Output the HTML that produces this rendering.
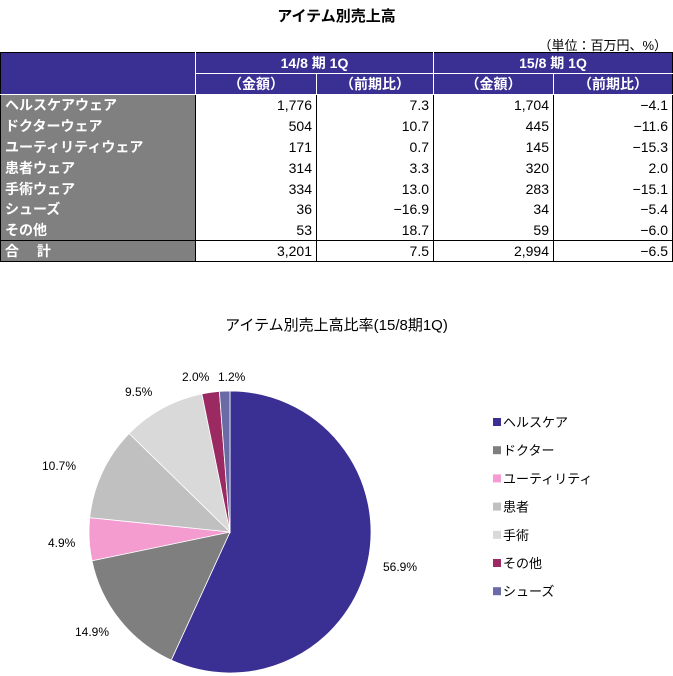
<!DOCTYPE html>
<html><head><meta charset="utf-8">
<style>
body{margin:0;background:#fff;width:673px;height:676px;position:relative;overflow:hidden;font-family:"Liberation Sans","Noto Sans CJK JP",sans-serif;color:#000}
.t{position:absolute;white-space:nowrap}
table{position:absolute;left:0;top:52px;border-collapse:collapse;font-size:14px}
td{border:1px solid #000;padding:0 4px;height:20px;text-align:right;box-sizing:border-box}
.h td{background:#3a3094;color:#fff;text-align:center;font-weight:bold;border-color:#fff;height:20px}
td.l{background:#808080;color:#fff;text-align:left;font-weight:bold;border-top:none;border-bottom:none;border-left:1px solid #000}
tbody.d td{border-top:none;border-bottom:none;height:20.9px}
tr.tot td{border-top:1px solid #000;border-bottom:1px solid #000;height:20px}
</style></head><body>
<div class="t" style="left:0;width:673px;text-align:center;top:5px;font-size:15px;font-weight:bold">アイテム別売上高</div>
<div class="t" style="right:6px;top:35px;font-size:13px">（単位：百万円、%）</div>
<table>
<colgroup><col style="width:195px"><col style="width:121px"><col style="width:117px"><col style="width:120px"><col style="width:119px"></colgroup>
<tr class="h"><td rowspan="2" style="border-left:1px solid #000;border-top:1px solid #000"></td><td colspan="2" style="border-top:1px solid #000">14/8 期 1Q</td><td colspan="2" style="border-top:1px solid #000;border-right:1px solid #000">15/8 期 1Q</td></tr>
<tr class="h"><td>（金額）</td><td>（前期比）</td><td>（金額）</td><td style="border-right:1px solid #000">（前期比）</td></tr>
<tbody class="d">
<tr><td class="l">ヘルスケアウェア</td><td>1,776</td><td>7.3</td><td>1,704</td><td style="border-right:1px solid #000">−4.1</td></tr>
<tr><td class="l">ドクターウェア</td><td>504</td><td>10.7</td><td>445</td><td style="border-right:1px solid #000">−11.6</td></tr>
<tr><td class="l">ユーティリティウェア</td><td>171</td><td>0.7</td><td>145</td><td style="border-right:1px solid #000">−15.3</td></tr>
<tr><td class="l">患者ウェア</td><td>314</td><td>3.3</td><td>320</td><td style="border-right:1px solid #000">2.0</td></tr>
<tr><td class="l">手術ウェア</td><td>334</td><td>13.0</td><td>283</td><td style="border-right:1px solid #000">−15.1</td></tr>
<tr><td class="l">シューズ</td><td>36</td><td>−16.9</td><td>34</td><td style="border-right:1px solid #000">−5.4</td></tr>
<tr><td class="l">その他</td><td>53</td><td>18.7</td><td>59</td><td style="border-right:1px solid #000">−6.0</td></tr>
<tr class="tot"><td class="l" style="border-top:1px solid #000;border-bottom:1px solid #000">合　 計</td><td>3,201</td><td>7.5</td><td>2,994</td><td style="border-right:1px solid #000">−6.5</td></tr>
</tbody></table>
<div class="t" style="left:0;width:673px;text-align:center;top:314px;font-size:15px">アイテム別売上高比率(15/8期1Q)</div>
<svg id="pie" width="673" height="676" style="position:absolute;left:0;top:0"></svg>
<div class="t" style="left:383px;top:560px;font-size:12px">56.9%</div>
<div class="t" style="left:75px;top:625px;font-size:12px">14.9%</div>
<div class="t" style="left:48px;top:536px;font-size:12px">4.9%</div>
<div class="t" style="left:42px;top:459px;font-size:12px">10.7%</div>
<div class="t" style="left:125px;top:385px;font-size:12px">9.5%</div>
<div class="t" style="left:182px;top:370px;font-size:12px">2.0%</div>
<div class="t" style="left:218px;top:370px;font-size:12px">1.2%</div>
<script>
var v=[56.9,14.9,4.9,10.7,9.5,2.0,1.2],c=["#3a2f92","#7f7f7f","#f49bd0","#c0c0c0","#d9d9d9","#9b2a62","#6a6aa6"];
var n=["ヘルスケア","ドクター","ユーティリティ","患者","手術","その他","シューズ"];
var cx=230,cy=532,r=141,s=0,tot=100.1,h="";
for(var i=0;i<7;i++){var a0=s/tot*2*Math.PI-Math.PI/2;s+=v[i];var a1=s/tot*2*Math.PI-Math.PI/2;
var x0=cx+r*Math.cos(a0),y0=cy+r*Math.sin(a0),x1=cx+r*Math.cos(a1),y1=cy+r*Math.sin(a1);
h+='<path d="M'+cx+' '+cy+'L'+x0+' '+y0+'A'+r+' '+r+' 0 '+((a1-a0)>Math.PI?1:0)+' 1 '+x1+' '+y1+'Z" fill="'+c[i]+'" stroke="#fff" stroke-width="0.8"/>';
var ly=422+i*28.2;
h+='<rect x="493" y="'+(ly-4)+'" width="8" height="8" fill="'+c[i]+'"/><text x="503" y="'+(ly+5)+'" font-size="13" font-family="Liberation Sans,Noto Sans CJK JP,sans-serif">'+n[i]+'</text>';}
document.getElementById("pie").innerHTML=h;
</script>
</body></html>
